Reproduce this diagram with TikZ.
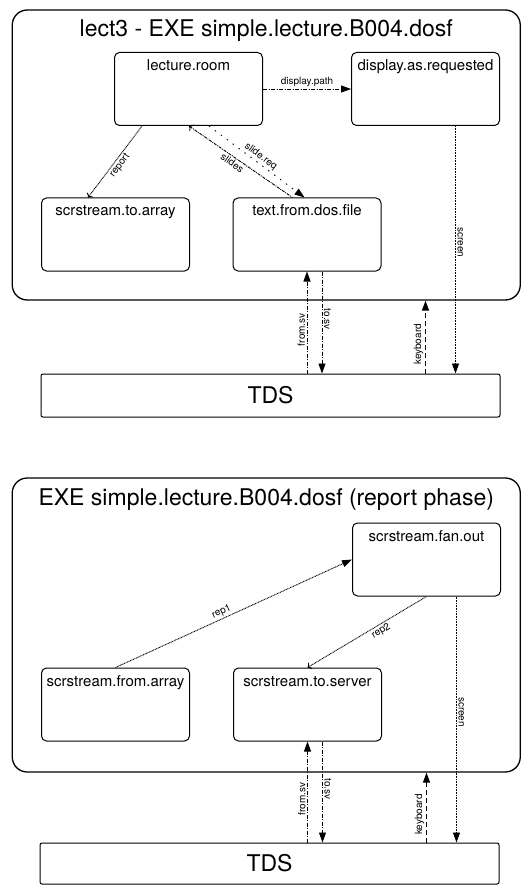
\documentclass[tikz,border=0pt]{standalone}
\usepackage{fontspec}
\setmainfont{TeX Gyre Heros}
\usetikzlibrary{arrows.meta}
\begin{document}
\begin{tikzpicture}[x=1pt, y=-1pt,
  panel/.style={draw, line width=1.3pt, rounded corners=15pt, minimum width=508pt},
  title/.style={anchor=base, inner sep=0pt, font=\fontsize{23}{26}\selectfont},
  proc/.style={draw, line width=1pt, rounded corners=5pt, minimum width=148pt,
    inner ysep=4pt, text height=14pt, text depth=51pt, font=\fontsize{15}{17}\selectfont},
  tdsbox/.style={draw, line width=1pt, rounded corners=2pt, minimum width=459pt,
    font=\fontsize{23}{26}\selectfont},
  lbl/.style={font=\fontsize{10}{12}\selectfont, inner sep=1.5pt},
  flow/.style={line width=0.9pt, -{Triangle[length=10pt,width=7pt]}},
  dashdot/.style={flow, dash pattern=on 4pt off 1.5pt on 1pt off 1.5pt},
  dens/.style={flow, dash pattern=on 0.9pt off 0.7pt},
  sparse/.style={flow, dash pattern=on 1.4pt off 6pt},
  kbd/.style={flow, line width=1.3pt, dash pattern=on 5pt off 3pt}]
\useasboundingbox (0,0) rectangle (521,885);

\node[panel, minimum height=290pt] (lect) at (266.25,155) {};
\node[title] (lecttitle) at ([yshift=-27pt]lect.north) {lect3 - EXE simple.lecture.B004.dosf};
\node[proc] (room) at (188.5,89) {lecture.room};
\node[proc] (disp) at (425.5,89) {display.as.requested};
\node[proc] (toarr) at (115.5,234.5) {scrstream.to.array};
\node[proc] (textfile) at (307,234.5) {text.from.dos.file};
\node[tdsbox, minimum height=43pt] (tdsa) at (270.5,395.5) {TDS};

\node[panel, minimum height=294pt] (rep) at (266.25,625) {};
\node[title] (reptitle) at ([yshift=-28pt]rep.north) {EXE simple.lecture.B004.dosf (report phase)};
\node[proc] (fanout) at (426.5,559.5) {scrstream.fan.out};
\node[proc] (fromarr) at (115.5,704.5) {scrstream.from.array};
\node[proc] (toserver) at (307.5,704.5) {scrstream.to.server};
\node[tdsbox, minimum height=41pt] (tdsb) at (269.5,863.5) {TDS};

\draw[dashdot] (room.east) -- (disp.west) node[lbl, midway, above] {display.path};
\draw[dens, <-] ([xshift=47pt]toarr.north west) -- ([xshift=28pt]room.south west)
  node[lbl, midway, sloped, below] {report};
\draw[flow, densely dash dot, <-] ([xshift=75pt]room.south west) -- ([xshift=60pt]textfile.north west)
  node[lbl, pos=0.45, sloped, below] {slides};
\draw[sparse] ([xshift=95pt]room.south west) -- ([xshift=72pt]textfile.north west)
  node[lbl, pos=0.5, sloped, above] {slide.req};

\draw[dens] (fromarr.north) -- (fanout.west) node[lbl, pos=0.46, sloped, above] {rep1};
\draw[dens, <-] (toserver.north) -- (fanout.south) node[lbl, pos=0.59, sloped, below] {rep2};

\foreach \pnl/\src/\scr/\tds in {lect/textfile/disp/tdsa, rep/toserver/fanout/tdsb} {
  \draw[dashdot] (\tds.north -| \src.south) -- (\src.south)
    node[lbl, pos=0.43, anchor=south, rotate=90] {from.sv};
  \draw[dashdot] ([xshift=15pt]\src.south) -- ([xshift=15pt]\src.south |- \tds.north)
    node[lbl, pos=0.47, anchor=south, rotate=-90] {to.sv};
  \draw[kbd] (\tds.north -| \scr.south) -- (\pnl.south -| \scr.south)
    node[lbl, pos=0.4, anchor=south, rotate=90] {keyboard};
  \draw[dens] ([xshift=30pt]\scr.south) -- ([xshift=30pt]\scr.south |- \tds.north)
    node[lbl, pos=0.47, anchor=south, rotate=-90] {screen};
}
\end{tikzpicture}
\end{document}
